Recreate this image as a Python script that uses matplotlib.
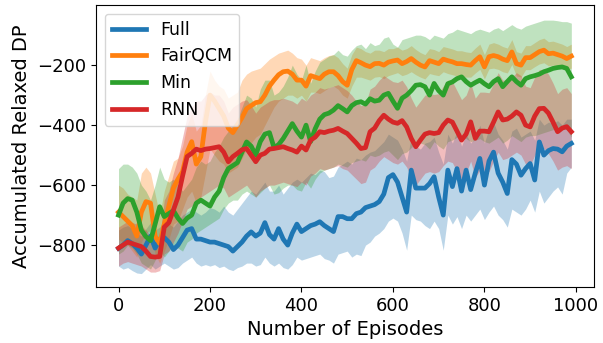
import numpy as np
import matplotlib
matplotlib.use("Agg")
import matplotlib.pyplot as plt

# episodes 0..990, one point every 10 episodes
episodes = np.arange(0, 1000, 10)

labels = ["Full", "FairQCM", "Min", "RNN"]

full = [
    -811, -800, -785, -795, -810, -830, -800, -770, -810, -780,
    -775, -790, -815, -800, -775, -750, -745, -780, -780, -785,
    -790, -790, -795, -800, -805, -820, -805, -790, -770, -756,
    -770, -760, -725, -765, -780, -745, -780, -800, -760, -730,
    -755, -745, -735, -730, -722, -735, -745, -755, -705, -705,
    -712, -712, -695, -690, -675, -670, -665, -655, -630, -575,
    -565, -590, -640, -690, -550, -610, -610, -610, -595, -572,
    -640, -700, -550, -605, -545, -620, -550, -615, -560, -511,
    -600, -520, -490, -560, -590, -628, -515, -530, -567, -545,
    -528, -583, -456, -500, -485, -478, -480, -489, -470, -461,
]
full_lo = [
    -870, -880, -875, -885, -893, -895, -880, -865, -880, -870,
    -860, -870, -880, -875, -860, -850, -840, -860, -870, -865,
    -870, -865, -875, -870, -880, -885, -875, -870, -860, -860,
    -870, -865, -840, -860, -870, -860, -875, -880, -865, -840,
    -850, -845, -840, -835, -830, -845, -850, -860, -830, -825,
    -820, -840, -830, -835, -800, -790, -770, -760, -745, -720,
    -710, -720, -760, -817, -700, -715, -720, -735, -745, -720,
    -745, -817, -700, -730, -705, -745, -700, -720, -700, -680,
    -715, -690, -670, -700, -715, -740, -680, -690, -700, -680,
    -650, -690, -620, -660, -640, -620, -606, -630, -560, -540,
]
full_hi = [
    -750, -740, -735, -745, -760, -770, -745, -725, -750, -740,
    -720, -730, -740, -720, -700, -690, -680, -690, -700, -690,
    -675, -680, -690, -670, -690, -700, -680, -660, -640, -620,
    -630, -610, -590, -620, -620, -600, -630, -610, -590, -580,
    -590, -575, -560, -565, -550, -555, -575, -570, -540, -530,
    -520, -530, -510, -515, -500, -490, -485, -470, -455, -430,
    -440, -450, -480, -520, -440, -470, -480, -460, -455, -440,
    -490, -530, -430, -460, -420, -470, -430, -460, -440, -400,
    -460, -410, -390, -430, -450, -480, -420, -410, -440, -430,
    -420, -450, -380, -400, -390, -395, -385, -400, -380, -380,
]

fairqcm = [
    -690, -705, -720, -735, -770, -690, -655, -660, -770, -795,
    -730, -670, -610, -580, -555, -490, -455, -530, -505, -390,
    -300, -320, -345, -370, -410, -425, -400, -375, -345, -335,
    -325, -322, -300, -270, -250, -232, -222, -220, -230, -250,
    -250, -270, -235, -240, -245, -230, -222, -222, -235, -255,
    -267, -215, -185, -192, -200, -205, -195, -194, -200, -190,
    -186, -183, -195, -188, -178, -190, -200, -206, -185, -190,
    -195, -180, -185, -189, -195, -195, -198, -200, -185, -172,
    -206, -172, -168, -172, -180, -185, -156, -195, -200, -175,
    -175, -165, -155, -150, -162, -160, -165, -170, -178, -170,
]
fairqcm_lo = [
    -780, -790, -800, -820, -840, -790, -760, -750, -830, -860,
    -820, -780, -730, -720, -680, -640, -620, -660, -640, -560,
    -480, -500, -520, -530, -560, -550, -540, -510, -480, -460,
    -440, -430, -400, -370, -340, -320, -310, -300, -300, -310,
    -300, -320, -290, -290, -295, -285, -275, -270, -280, -300,
    -310, -270, -240, -240, -245, -250, -240, -238, -245, -235,
    -230, -225, -235, -230, -222, -232, -240, -246, -228, -232,
    -235, -222, -228, -232, -236, -236, -240, -240, -226, -214,
    -246, -212, -210, -214, -222, -226, -198, -236, -240, -215,
    -215, -205, -196, -192, -202, -200, -205, -210, -215, -210,
]
fairqcm_hi = [
    -600, -610, -630, -640, -650, -560, -540, -560, -630, -700,
    -620, -570, -520, -510, -470, -400, -360, -420, -400, -300,
    -220, -250, -270, -280, -310, -300, -290, -250, -230, -220,
    -215, -210, -195, -180, -170, -160, -155, -150, -160, -175,
    -180, -200, -175, -180, -185, -175, -168, -165, -175, -195,
    -210, -165, -140, -145, -155, -160, -150, -150, -155, -145,
    -145, -140, -150, -145, -135, -148, -158, -165, -145, -148,
    -155, -138, -142, -146, -152, -152, -156, -158, -143, -130,
    -165, -130, -125, -130, -138, -143, -115, -155, -160, -135,
    -135, -125, -115, -110, -122, -120, -125, -130, -138, -130,
]

mini = [
    -700, -660, -645, -650, -690, -750, -772, -785, -730, -672,
    -705, -695, -685, -710, -728, -710, -700, -660, -650, -660,
    -670, -640, -620, -575, -545, -535, -525, -490, -456, -470,
    -500, -455, -430, -425, -475, -465, -445, -420, -395, -420,
    -440, -400, -455, -412, -380, -365, -360, -350, -335, -345,
    -356, -335, -325, -322, -330, -312, -320, -317, -300, -294,
    -320, -344, -310, -300, -285, -267, -265, -272, -300, -261,
    -285, -300, -262, -256, -245, -239, -255, -267, -258, -250,
    -262, -272, -255, -245, -272, -255, -239, -255, -267, -245,
    -239, -235, -230, -222, -217, -211, -208, -206, -211, -239,
]
mini_lo = [
    -830, -820, -800, -810, -830, -860, -870, -880, -850, -820,
    -840, -820, -800, -810, -820, -790, -780, -760, -750, -740,
    -730, -720, -710, -680, -660, -650, -650, -630, -620, -630,
    -640, -625, -610, -600, -630, -625, -610, -600, -600, -615,
    -620, -590, -610, -580, -560, -550, -545, -540, -530, -535,
    -540, -525, -520, -515, -520, -500, -505, -500, -490, -485,
    -500, -515, -495, -490, -475, -460, -460, -465, -480, -455,
    -470, -480, -455, -450, -440, -435, -445, -455, -450, -445,
    -455, -460, -450, -440, -460, -450, -435, -445, -455, -440,
    -435, -435, -430, -425, -420, -415, -415, -410, -415, -440,
]
mini_hi = [
    -545, -530, -530, -540, -560, -600, -620, -650, -600, -540,
    -580, -590, -580, -600, -620, -600, -580, -540, -520, -530,
    -520, -490, -470, -440, -420, -400, -380, -340, -300, -310,
    -340, -280, -250, -250, -300, -290, -270, -240, -200, -230,
    -250, -200, -260, -220, -190, -180, -170, -165, -150, -165,
    -170, -150, -135, -130, -145, -125, -135, -130, -110, -105,
    -130, -140, -115, -110, -105, -100, -100, -105, -115, -100,
    -105, -110, -95, -90, -80, -85, -90, -95, -85, -80,
    -85, -90, -80, -75, -85, -75, -65, -75, -80, -70,
    -65, -60, -55, -50, -50, -50, -52, -55, -55, -60,
]

rnn = [
    -810, -800, -790, -795, -800, -805, -820, -838, -840, -838,
    -740, -725, -683, -640, -570, -505, -494, -480, -485, -480,
    -478, -475, -472, -490, -522, -505, -494, -482, -478, -500,
    -522, -500, -494, -480, -478, -475, -472, -478, -483, -490,
    -470, -483, -450, -440, -422, -425, -420, -417, -411, -420,
    -428, -444, -460, -478, -475, -422, -410, -385, -367, -380,
    -390, -394, -385, -406, -444, -472, -450, -430, -425, -428,
    -425, -400, -383, -390, -420, -450, -430, -389, -444, -420,
    -420, -422, -390, -356, -383, -380, -370, -356, -367, -400,
    -406, -370, -345, -344, -360, -390, -422, -410, -405, -422,
]
rnn_lo = [
    -870, -860, -855, -860, -865, -870, -880, -890, -890, -885,
    -830, -820, -790, -760, -720, -680, -670, -650, -640, -630,
    -620, -610, -600, -610, -640, -630, -620, -610, -600, -620,
    -640, -620, -610, -600, -600, -595, -590, -595, -600, -605,
    -590, -600, -570, -560, -545, -550, -545, -540, -535, -545,
    -550, -565, -580, -595, -590, -550, -540, -520, -505, -515,
    -525, -530, -520, -540, -575, -600, -580, -560, -555, -560,
    -555, -535, -520, -525, -555, -580, -560, -520, -575, -550,
    -550, -555, -520, -490, -515, -510, -500, -490, -500, -530,
    -535, -500, -480, -478, -495, -520, -550, -540, -535, -545,
]
rnn_hi = [
    -740, -730, -720, -725, -730, -735, -750, -770, -780, -780,
    -650, -620, -560, -510, -440, -370, -340, -320, -320, -300,
    -290, -300, -300, -320, -360, -340, -330, -320, -315, -335,
    -360, -340, -330, -320, -315, -315, -310, -315, -320, -330,
    -310, -320, -300, -290, -275, -280, -275, -270, -265, -275,
    -285, -300, -320, -335, -330, -280, -270, -250, -235, -245,
    -255, -258, -250, -272, -310, -340, -320, -300, -295, -298,
    -295, -270, -250, -255, -285, -315, -300, -260, -310, -290,
    -290, -292, -262, -225, -250, -250, -240, -225, -235, -270,
    -275, -240, -215, -214, -230, -260, -295, -280, -275, -295,
]

means = [full, fairqcm, mini, rnn]
lows = [full_lo, fairqcm_lo, mini_lo, rnn_lo]
highs = [full_hi, fairqcm_hi, mini_hi, rnn_hi]
colors = ["tab:blue", "tab:orange", "tab:green", "tab:red"]

fig, ax = plt.subplots(figsize=(6.03, 3.43), dpi=100)
fig.subplots_adjust(left=0.159, right=0.985, top=0.985, bottom=0.163)

for lab, m, lo, hi, c in zip(labels, means, lows, highs, colors):
    ax.plot(episodes, m, color=c, linewidth=3.4, label=lab)
    ax.fill_between(episodes, lo, hi, color=c, alpha=0.3, linewidth=0)

ax.set_ylim(-940, 0)
ax.set_yticks([-800, -600, -400, -200])
ax.set_xticks([0, 200, 400, 600, 800, 1000])
ax.tick_params(labelsize=13)
ax.set_xlabel("Number of Episodes", fontsize=14)
ax.set_ylabel("Accumulated Relaxed DP", fontsize=14)
ax.legend(loc="upper left", fontsize=12.5)

fig.savefig("out.png", dpi=100)
